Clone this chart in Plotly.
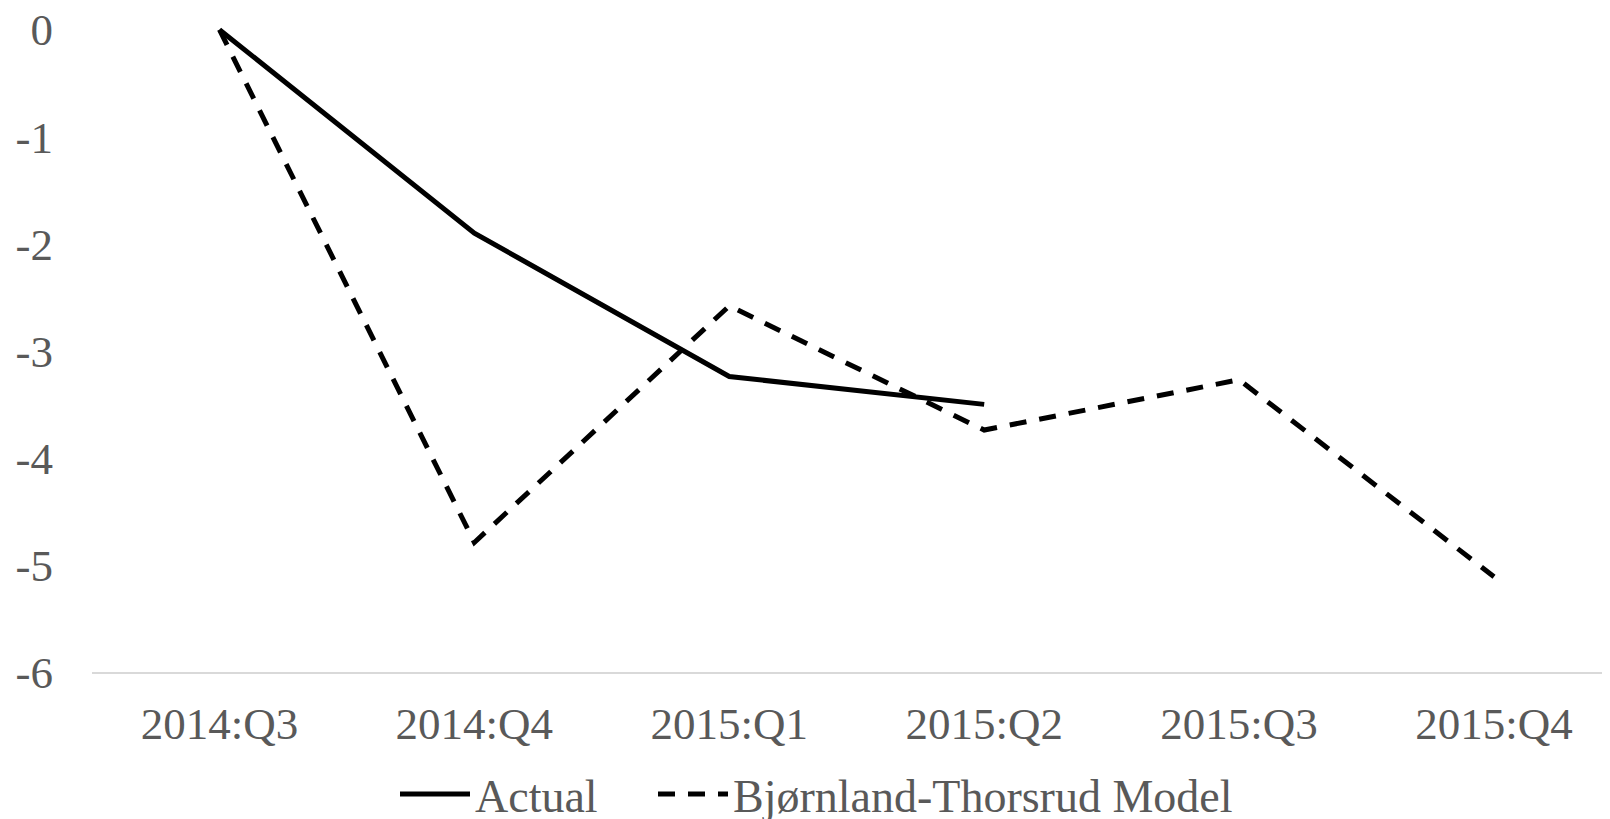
import plotly.graph_objects as go

quarters = ["2014:Q3", "2014:Q4", "2015:Q1", "2015:Q2", "2015:Q3", "2015:Q4"]
actual = [0.0, -1.9, -3.24, -3.5, None, None]
model = [0.0, -4.79, -2.58, -3.74, -3.27, -5.11]
y_ticks = [0, -1, -2, -3, -4, -5, -6]
y_tick_text = ["0", "-1", "-2", "-3", "-4", "-5", "-6"]

FONT = "Liberation Serif"
GRAY = "#595959"
W, H = 1602, 811  # page body adds an 8px offset

fig = go.Figure()
fig.add_trace(go.Scatter(
    x=quarters, y=actual, mode="lines", name="Actual", legend="legend",
    line=dict(color="black", width=5),
))
fig.add_trace(go.Scatter(
    x=quarters, y=model, mode="lines", name="Bjørnland-Thorsrud Model", legend="legend2",
    line=dict(color="black", width=5, dash="17px,13px"),
))

leg_common = dict(
    orientation="h", xref="container", yref="container",
    xanchor="left", yanchor="middle", y=1 - 786 / H,
    font=dict(family=FONT, size=46, color=GRAY),
    itemwidth=70, bgcolor="rgba(0,0,0,0)", borderwidth=0,
)

fig.update_layout(
    width=W, height=H,
    margin=dict(l=84, r=0, t=11, b=147, autoexpand=False),
    paper_bgcolor="white", plot_bgcolor="white",
    font=dict(family=FONT, size=45, color=GRAY),
    showlegend=True,
    legend=dict(leg_common, x=(400 - 8 - 5) / W),
    legend2=dict(leg_common, x=(657 - 8 - 4) / W),
    xaxis=dict(
        type="category", range=[-0.5, 5.455], automargin=False,
        showgrid=False, zeroline=False,
        showline=True, linecolor="#d9d9d9", linewidth=2,
        ticks="", ticklabelstandoff=11, ticklabeloverflow="allow",
        tickfont=dict(family=FONT, size=45, color=GRAY),
    ),
    yaxis=dict(
        range=[-6, 0.1], tickvals=y_ticks, ticktext=y_tick_text, automargin=False,
        showgrid=False, zeroline=False, showline=False,
        ticks="", ticklabelstandoff=38, ticklabeloverflow="allow",
        tickfont=dict(family=FONT, size=45, color=GRAY),
    ),
)

fig.write_html("out.html")
